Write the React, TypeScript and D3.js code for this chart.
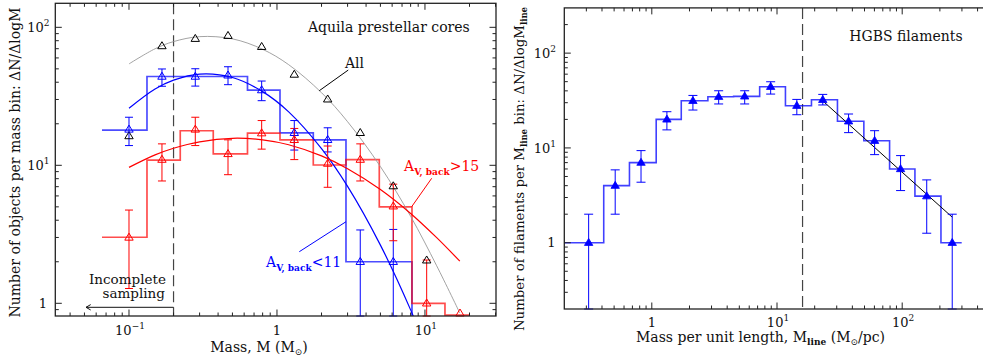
import React from "react";
import * as d3 from "d3";

// ---------------- Left panel: Aquila prestellar cores ----------------
const coreMass = [0.1, 0.167, 0.2805, 0.4667, 0.788, 1.309, 2.201, 3.654, 6.107, 10.27, 17.24];
const allCores = [16.3, 73.2, 82.7, 86.9, 72.3, 45.5, 30.1, 17.2, 7.07, 2.05];
const lowAvCores = [18.2, 44.0, 44.0, 44.9, 35.1, 17.2, 15.3, 2.0, 2.0];
const lowAvHi = [22.3, 49.9, 50.1, 51.8, 40.8, 21.1, 18.7, 3.4, 3.43];
const lowAvLo = [13.9, 37.4, 37.5, 38.4, 29.4, 12.9, 12.5, 0, 0];
const highAvCores = [3.0, 11.0, 18.2, 12.1, 17.1, 15.3, 10.3, 11.0, 5.05, 1.0, 0.83];
const highAvHi = [4.74, 14.3, 22.3, 15.3, 21.1, 18.5, 13.8, 14.3, 7.3, 2.06, null];
const highAvLo = [1.28, 7.7, 13.9, 8.55, 13.1, 11.0, 6.93, 7.7, 2.84, 0, null];
const coreBinEdges = [0.0657, 0.1323, 0.222, 0.371, 0.632, 1.048, 1.759, 2.926, 4.912, 8.17, 13.65, 20.14];
const lowAvHist = [18.0, 44.0, 44.0, 44.0, 35.1, 17.2, 15.3, 2.0, 2.0];
const highAvHist = [3.01, 10.9, 17.8, 12.1, 17.1, 15.3, 10.05, 11.0, 5.0, 1.0, 0.82];
const fitMass = [0.1, 0.15, 0.2, 0.3, 0.5, 0.8, 1.2, 2, 3, 5, 8, 12, 17.2];
const fitAll = [54.3, 69.9, 78.8, 85.6, 82.5, 69.3, 53.6, 33.6, 20.7, 9.79, 4.27, 1.87, 0.85];
const fitLowAv = [25.9, 35.7, 41.4, 45.8, 43.3, 34.2, 24.4, 13.2, 7.03, 2.64, 0.896, 0.307, 0.106];
const fitHighAv = [9.66, 11.9, 13.3, 14.8, 15.7, 15.3, 14.1, 11.7, 9.45, 6.68, 4.48, 2.99, 2.02];
const coreCompleteness = 0.2;
const coreXTicks = [
  { v: 0.1, base: "10", exp: "\u22121" },
  { v: 1, base: "1", exp: "" },
  { v: 10, base: "10", exp: "1" },
];
const coreYTicks = [
  { v: 1, base: "1", exp: "" },
  { v: 10, base: "10", exp: "1" },
  { v: 100, base: "10", exp: "2" },
];

// ---------------- Right panel: HGBS filaments ----------------
const filMline = [0.313, 0.51, 0.82, 1.32, 2.13, 3.42, 5.52, 8.9, 14.4, 23.2, 37.3, 60.2, 97.1, 157, 251];
const filCount = [1.0, 4.0, 7.0, 20, 31.4, 34.7, 35, 44.2, 27.9, 32.2, 19.1, 11.9, 6.0, 3.1, 1.0];
const filHi = [2.0, 5.87, 9.37, 24.1, 35.8, 40.1, 40.1, 49.9, 32.5, 36.7, 22.8, 15.2, 8.3, 4.6, 2.0];
const filLo = [0, 2.0, 4.35, 15.5, 25.1, 29.1, 29.1, 37.0, 22.4, 28.4, 14.5, 8.5, 3.55, 1.26, 0];
const filBinEdges = [0.2, 0.413, 0.663, 1.084, 1.719, 2.805, 4.503, 7.27, 11.68, 18.85, 30.4, 49.4, 79.3, 126.4, 204, 298.7];
const filFitMline = [23.1, 251];
const filFitCount = [31.5, 1.86];
const filCritical = 16;
const filXTicks = [
  { v: 1, base: "1", exp: "" },
  { v: 10, base: "10", exp: "1" },
  { v: 100, base: "10", exp: "2" },
];
const filYTicks = [
  { v: 1, base: "1", exp: "" },
  { v: 10, base: "10", exp: "1" },
  { v: 100, base: "10", exp: "2" },
];

// ---------------- layout ----------------
const W = 983;
const H = 360;
const FONT = "'DejaVu Serif', serif";
const BLUE = "#0000ff";
const RED = "#ff0000";

const xL = d3.scaleLog().domain([0.03177, 30.2]).range([55.3, 496]);
const yL = d3.scaleLog().domain([0.809, 149.3]).range([316, 3.3]);
const xR = d3.scaleLog().domain([0.2, 500]).range([564.3, 989.7]);
const yR = d3.scaleLog().domain([0.2, 300]).range([309, 7.9]);

function logTicks([a, b]: number[]) {
  const out: { v: number; major: boolean }[] = [];
  for (let e = Math.floor(Math.log10(a)); e <= Math.ceil(Math.log10(b)); e++)
    for (let k = 1; k <= 9; k++) {
      const v = k * Math.pow(10, e);
      if (v >= a * 1.001 && v <= b * 0.999) out.push({ v, major: k === 1 });
    }
  return out;
}

function Frame({ xs, ys }: any) {
  const [x0, x1] = xs.range();
  const [y1, y0] = ys.range();
  const xt = logTicks(xs.domain());
  const yt = logTicks(ys.domain());
  return (
    <g stroke="#222" strokeWidth={1}>
      <rect x={x0} y={y0} width={x1 - x0} height={y1 - y0} fill="none" strokeWidth={1.3} />
      {xt.map((t) => {
        const p = xs(t.v);
        const l = t.major ? 6.5 : 3.5;
        return (
          <g key={"x" + t.v}>
            <line x1={p} x2={p} y1={y1} y2={y1 - l} />
            <line x1={p} x2={p} y1={y0} y2={y0 + l} />
          </g>
        );
      })}
      {yt.map((t) => {
        const p = ys(t.v);
        const l = t.major ? 6.5 : 3.5;
        return (
          <g key={"y" + t.v}>
            <line x1={x0} x2={x0 + l} y1={p} y2={p} />
            <line x1={x1} x2={x1 - l} y1={p} y2={p} />
          </g>
        );
      })}
    </g>
  );
}

function PowLabel({ x, y, base, exp, anchor }: any) {
  return (
    <text x={x} y={y} textAnchor={anchor} fontSize={13} fontFamily={FONT} fill="#111">
      {base}
      {exp ? (
        <tspan dy={-6} fontSize={9}>
          {exp}
        </tspan>
      ) : null}
    </text>
  );
}

function stepPath(edges: number[], vals: number[], xs: any, ys: any, dropEnd: boolean) {
  let d = "";
  vals.forEach((v, i) => {
    const xa = xs(edges[i]);
    const xb = xs(edges[i + 1]);
    const y = ys(v);
    d += (i === 0 ? `M${xa},${y}` : `V${y}`) + `H${xb}`;
  });
  if (dropEnd) d += `V${ys.range()[0]}`;
  return d;
}

function triPath(x: number, y: number) {
  return `M${x},${y - 4.3}L${x + 4.2},${y + 2.7}L${x - 4.2},${y + 2.7}Z`;
}

function ErrBar({ x, hi, lo, ys, color, cap = 4 }: any) {
  const bottom = ys.range()[0];
  const yh = ys(hi);
  const yl = lo > ys.domain()[0] ? ys(lo) : bottom;
  return (
    <g stroke={color} strokeWidth={1}>
      <line x1={x} x2={x} y1={yh} y2={yl} />
      <line x1={x - cap} x2={x + cap} y1={yh} y2={yh} />
      <line x1={x - cap} x2={x + cap} y1={yl} y2={yl} />
    </g>
  );
}

export default function App() {
  const lineL = d3
    .line<number>()
    .x((_, i) => xL(fitMass[i]))
    .curve(d3.curveCatmullRom);
  const gray = lineL.y((v) => yL(v))(fitAll);
  const blueFit = lineL.y((v) => yL(v))(fitLowAv);
  const redFit = lineL.y((v) => yL(v))(fitHighAv);

  const [lx0, lx1] = xL.range();
  const [ly1, ly0] = yL.range();
  const [rx0, rx1] = xR.range();
  const [ry1, ry0] = yR.range();

  const xc = xL(coreCompleteness);
  const xcR = xR(filCritical);

  return (
    <div style={{ position: "absolute", left: 0, top: 0 }}>
      <svg width={W} height={H} viewBox={`0 0 ${W} ${H}`} style={{ display: "block", background: "#fff" }}>
        <defs>
          <clipPath id="clipL">
            <rect x={lx0} y={ly0} width={lx1 - lx0} height={ly1 - ly0} />
          </clipPath>
          <clipPath id="clipR">
            <rect x={rx0} y={ry0} width={rx1 - rx0} height={ry1 - ry0} />
          </clipPath>
        </defs>

        {/* ---------------- Left panel ---------------- */}
        <line x1={xc} x2={xc} y1={ly0} y2={ly1} stroke="#444" strokeWidth={1.2} strokeDasharray="11,5" />
        <g clipPath="url(#clipL)" fill="none">
          <path d={stepPath(coreBinEdges, lowAvHist, xL, yL, true)} stroke={BLUE} strokeOpacity={0.7} strokeWidth={1.7} />
          <path d={stepPath(coreBinEdges, highAvHist, xL, yL, false)} stroke={RED} strokeOpacity={0.7} strokeWidth={1.7} />
          <path d={gray || ""} stroke="#999" strokeWidth={0.9} />
          <path d={blueFit || ""} stroke={BLUE} strokeWidth={1.2} />
          <path d={redFit || ""} stroke={RED} strokeWidth={1.2} />
        </g>
        {lowAvCores.map((v, i) => (
          <ErrBar key={"be" + i} x={xL(coreMass[i])} hi={lowAvHi[i]} lo={lowAvLo[i]} ys={yL} color={BLUE} />
        ))}
        {highAvCores.map((v, i) =>
          highAvHi[i] == null ? null : (
            <ErrBar key={"re" + i} x={xL(coreMass[i])} hi={highAvHi[i]} lo={highAvLo[i]} ys={yL} color={RED} />
          )
        )}
        <g fill="none" strokeWidth={1}>
          {allCores.map((v, i) => (
            <path key={"a" + i} d={triPath(xL(coreMass[i]), yL(v))} stroke="#000" />
          ))}
          {lowAvCores.map((v, i) => (
            <path key={"b" + i} d={triPath(xL(coreMass[i]), yL(v))} stroke={BLUE} />
          ))}
          {highAvCores.map((v, i) => (
            <path key={"r" + i} d={triPath(xL(coreMass[i]), Math.min(yL(v), ly1 - 2.7))} stroke={RED} />
          ))}
        </g>
        <Frame xs={xL} ys={yL} />

        {/* annotations left */}
        <text x={308} y={32.3} fontSize={14} fontFamily={FONT} fill="#111">
          Aquila prestellar cores
        </text>
        <text x={345} y={68.3} fontSize={14} fontFamily={FONT} fill="#111">
          All
        </text>
        <line x1={xL(3.03)} y1={yL(49.0)} x2={xL(1.93)} y2={yL(34.7)} stroke="#000" strokeWidth={1} />
        <text x={404} y={171} fontSize={14} fontFamily={FONT} fill={RED}>
          A
          <tspan dy={3.5} fontSize={9} fontWeight="bold">
            V, back
          </tspan>
          <tspan dy={-3.5}>&gt;15</tspan>
        </text>
        <line x1={xL(11.1)} y1={yL(8.05)} x2={xL(8.13)} y2={yL(5.01)} stroke={RED} strokeWidth={1} />
        <text x={266} y={267} fontSize={14} fontFamily={FONT} fill={BLUE}>
          A
          <tspan dy={3.5} fontSize={9} fontWeight="bold">
            V, back
          </tspan>
          <tspan dy={-3.5}>&lt;11</tspan>
        </text>
        <line x1={xL(1.415)} y1={yL(2.365)} x2={xL(2.926)} y2={yL(3.9)} stroke={BLUE} strokeWidth={1} />
        <text x={89} y={283.5} fontSize={13.5} fontFamily={FONT} fill="#111">
          Incomplete
        </text>
        <text x={102.5} y={298} fontSize={13.5} fontFamily={FONT} fill="#111">
          sampling
        </text>
        <g stroke="#111" strokeWidth={1} fill="none">
          <line x1={86} x2={xc} y1={307.3} y2={307.3} />
          <path d={`M${90.7},${304.6}L${86},${307.3}L${90.7},${310}`} />
        </g>

        {coreXTicks.map((t) => (
          <PowLabel key={"lxt" + t.v} x={xL(t.v) + (t.exp ? 1 : 0)} y={335} base={t.base} exp={t.exp} anchor="middle" />
        ))}
        {coreYTicks.map((t) => (
          <PowLabel key={"lyt" + t.v} x={t.exp ? 49.5 : 47} y={yL(t.v) + 4.6} base={t.base} exp={t.exp} anchor="end" />
        ))}
        <text x={259} y={351.5} textAnchor="middle" fontSize={14} fontFamily={FONT} fill="#111">
          Mass, M (M
          <tspan dy={3} fontSize={9}>
            ⊙
          </tspan>
          <tspan dy={-3}>)</tspan>
        </text>
        <text
          transform={`translate(20,162.5) rotate(-90)`}
          textAnchor="middle"
          fontSize={14}
          fontFamily={FONT}
          fill="#111"
        >
          Number of objects per mass bin: ΔN/ΔlogM
        </text>

        {/* ---------------- Right panel ---------------- */}
        <line x1={xcR} x2={xcR} y1={ry0} y2={ry1} stroke="#444" strokeWidth={1.2} strokeDasharray="11,5" />
        <g clipPath="url(#clipR)" fill="none">
          <path d={stepPath(filBinEdges, filCount, xR, yR, false)} stroke={BLUE} strokeOpacity={0.75} strokeWidth={1.6} />
          <line
            x1={xR(filFitMline[0])}
            y1={yR(filFitCount[0])}
            x2={xR(filFitMline[1])}
            y2={yR(filFitCount[1])}
            stroke="#000"
            strokeWidth={1}
          />
        </g>
        {filCount.map((v, i) => (
          <ErrBar key={"fe" + i} x={xR(filMline[i])} hi={filHi[i]} lo={filLo[i]} ys={yR} color={BLUE} cap={4.5} />
        ))}
        {filCount.map((v, i) => (
          <path key={"ft" + i} d={triPath(xR(filMline[i]), yR(v))} fill={BLUE} stroke={BLUE} strokeWidth={0.8} />
        ))}
        <Frame xs={xR} ys={yR} />

        <text x={849.3} y={40.5} fontSize={14} fontFamily={FONT} fill="#111">
          HGBS filaments
        </text>
        {filXTicks.map((t) => (
          <PowLabel key={"rxt" + t.v} x={xR(t.v) + (t.exp ? 1 : 0)} y={327} base={t.base} exp={t.exp} anchor="middle" />
        ))}
        {filYTicks.map((t) => (
          <PowLabel key={"ryt" + t.v} x={t.exp ? 556 : 555.5} y={yR(t.v) + 4.6} base={t.base} exp={t.exp} anchor="end" />
        ))}
        <text x={760.5} y={341.5} textAnchor="middle" fontSize={14} fontFamily={FONT} fill="#111">
          Mass per unit length, M
          <tspan dy={3} fontSize={9} fontWeight="bold">
            line
          </tspan>
          <tspan dy={-3}> (M</tspan>
          <tspan dy={3} fontSize={9}>
            ⊙
          </tspan>
          <tspan dy={-3}>/pc)</tspan>
        </text>
        <text
          transform={`translate(524,169) rotate(-90)`}
          textAnchor="middle"
          fontSize={13.3}
          fontFamily={FONT}
          fill="#111"
        >
          Number of filaments per M
          <tspan dy={3} fontSize={8.5} fontWeight="bold">
            line
          </tspan>
          <tspan dy={-3}> bin: ΔN/ΔlogM</tspan>
          <tspan dy={3} fontSize={8.5} fontWeight="bold">
            line
          </tspan>
        </text>
      </svg>
    </div>
  );
}
